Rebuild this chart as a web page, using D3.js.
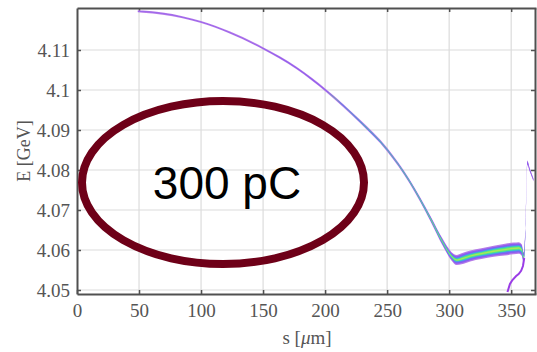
<!DOCTYPE html>
<html>
<head>
<meta charset="utf-8">
<script src="https://cdn.jsdelivr.net/npm/d3@7"></script>
<style>
  body { margin: 0; background: #fff; }
  svg { display: block; }
</style>
</head>
<body>
<svg id="chart" width="537" height="352"></svg>
<script>
// Tick values
const xTicks = [0, 50, 100, 150, 200, 250, 300, 350];
const yTicks = [4.05, 4.06, 4.07, 4.08, 4.09, 4.1, 4.11];

// Main beam energy profile (s in um, E in GeV)
const sMain = [49, 53, 69, 85, 100, 123, 150, 177, 201, 228, 250, 268, 285, 295, 302, 306, 310, 317, 326, 336, 345, 352, 356, 358.5, 360, 361.5, 363, 365, 368];
const eMain = [4.1197, 4.1196, 4.1191, 4.1182, 4.1170, 4.1144, 4.1104, 4.1055, 4.0998, 4.0922, 4.0851, 4.0772, 4.0678, 4.0618, 4.0584, 4.0575, 4.0578, 4.0585, 4.0591, 4.0597, 4.0601, 4.0604, 4.0605, 4.0600, 4.0582, 4.0650, 4.0818, 4.0800, 4.0775];
// Half width of the whole distribution and of its dense core (GeV)
const spreadOuter = [0.0002, 0.0002, 0.0002, 0.0002, 0.0002, 0.0002, 0.00022, 0.00025, 0.00028, 0.00035, 0.0004, 0.00045, 0.0006, 0.0008, 0.001, 0.0012, 0.0013, 0.0013, 0.0013, 0.0013, 0.0014, 0.0014, 0.0014, 0.0014, 0.0012, 0.0008, 0.0005, 0.0004, 0.0003];
const spreadCore = [0, 0, 0, 0, 0, 0, 0, 0, 0, 0.00004, 0.00008, 0.00012, 0.0002, 0.0003, 0.0004, 0.0005, 0.0006, 0.0006, 0.0006, 0.0007, 0.0007, 0.0007, 0.0007, 0.0006, 0.0004, 0.0001, 0, 0, 0];

// Low energy tail at the bunch head
const sTail = [347, 349, 351, 354, 356, 358, 359.5, 360.5];
const eTail = [4.0495, 4.0515, 4.0525, 4.0535, 4.0540, 4.0548, 4.0560, 4.0580];

const svg = d3.select("#chart");

// Plot area
const plotLeft = 77, plotRight = 536, plotTop = 8, plotBottom = 294;

const x = d3.scaleLinear().domain([0, 370]).range([plotLeft, plotRight]);
const y = d3.scaleLinear().domain([4.049, 4.1205]).range([plotBottom, plotTop]);

const serif = "Liberation Serif, DejaVu Serif, serif";

// Grid lines
svg.append("g")
    .selectAll("line")
    .data(xTicks.filter(d => d > 0))
    .join("line")
    .attr("x1", d => x(d)).attr("x2", d => x(d))
    .attr("y1", plotTop).attr("y2", plotBottom)
    .attr("stroke", "#dcdcdc")
    .attr("stroke-width", 1.2)

svg.append("g")
    .selectAll("line")
    .data(yTicks)
    .join("line")
    .attr("x1", plotLeft).attr("x2", plotRight)
    .attr("y1", d => y(d)).attr("y2", d => y(d))
    .attr("stroke", "#dcdcdc")
    .attr("stroke-width", 1.2)

// Axes (ticks point inward, like matlab)
const xAxis = d3.axisBottom(x).tickValues(xTicks).tickSizeInner(-4).tickSizeOuter(0).tickPadding(10);
const yAxis = d3.axisLeft(y).tickValues(yTicks).tickSizeInner(-4).tickSizeOuter(0).tickPadding(7)
    .tickFormat(d => String(+d.toFixed(2)));

const gx = svg.append("g").attr("transform", "translate(0," + plotBottom + ")").call(xAxis);
const gy = svg.append("g").attr("transform", "translate(" + plotLeft + ",0)").call(yAxis);
gx.attr("font-family", serif).attr("font-size", 19);
gy.attr("font-family", serif).attr("font-size", 19);

// Top and right ticks, no labels
svg.append("g").attr("transform", "translate(0," + plotTop + ")")
    .call(d3.axisTop(x).tickValues(xTicks.filter(d => d > 0)).tickSizeInner(-4).tickSizeOuter(0).tickFormat(""));
svg.append("g").attr("transform", "translate(" + (plotRight - 1) + ",0)")
    .call(d3.axisRight(y).tickValues(yTicks).tickSizeInner(-4).tickSizeOuter(0).tickFormat(""));

svg.selectAll(".domain").attr("stroke", "#505050").attr("stroke-width", 2);
svg.selectAll(".tick line").attr("stroke", "#505050").attr("stroke-width", 1.5);
svg.selectAll(".tick text").attr("fill", "#555");

// Axis labels
svg.append("text")
    .attr("x", 307).attr("y", 344)
    .attr("text-anchor", "middle")
    .attr("fill", "#555")
    .attr("font-family", serif)
    .attr("font-size", 19)
    .html("s [<tspan font-style='italic'>μ</tspan>m]");

svg.append("text")
    .attr("transform", "translate(30,151) rotate(-90)")
    .attr("text-anchor", "middle")
    .attr("fill", "#555")
    .attr("font-family", serif)
    .attr("font-size", 18)
    .text("E [GeV]");

// Energy distribution bands
const pts = sMain.map((s, i) => ({ s: s, e: eMain[i], wo: spreadOuter[i], wc: spreadCore[i] }));

const band = (f) => d3.area()
    .x(d => x(d.s))
    .y0(d => y(d.e - f(d)))
    .y1(d => y(d.e + f(d)))
    .curve(d3.curveMonotoneX);

const layers = [
    { color: "#b57ae8", f: d => d.wo + 0.00006 },
    { color: "#8a5cf0", f: d => Math.max(0, d.wo * 0.9 - 0.00012) },
    { color: "#5a84f2", f: d => d.wc + 0.0001 * (d.wc > 0) },
    { color: "#2fd0c4", f: d => d.wc * 0.8 },
    { color: "#5ee878", f: d => d.wc * 0.55 },
    { color: "#a8e858", f: d => d.wc * 0.25 }
];

const bandG = svg.append("g");
layers.forEach(l => {
    bandG.append("path")
        .datum(pts)
        .attr("d", band(l.f))
        .attr("fill", l.color)
});

// Tail
const tailPts = sTail.map((s, i) => ({ s: s, e: eTail[i] }));
bandG.append("path")
    .datum(tailPts)
    .attr("d", d3.line().x(d => x(d.s)).y(d => y(d.e)).curve(d3.curveLinear))
    .attr("fill", "none")
    .attr("stroke", "#9a3ce6")
    .attr("stroke-width", 2)

// Annotation ellipse
svg.append("ellipse")
    .attr("cx", 223).attr("cy", 182.5)
    .attr("rx", 141).attr("ry", 81.5)
    .attr("fill", "none")
    .attr("stroke", "#6e0018")
    .attr("stroke-width", 8)

svg.append("text")
    .attr("x", 227).attr("y", 199)
    .attr("text-anchor", "middle")
    .attr("fill", "#000")
    .attr("font-family", "Liberation Sans, Arial, sans-serif")
    .attr("font-size", 46)
    .text("300 pC");
</script>
</body>
</html>
